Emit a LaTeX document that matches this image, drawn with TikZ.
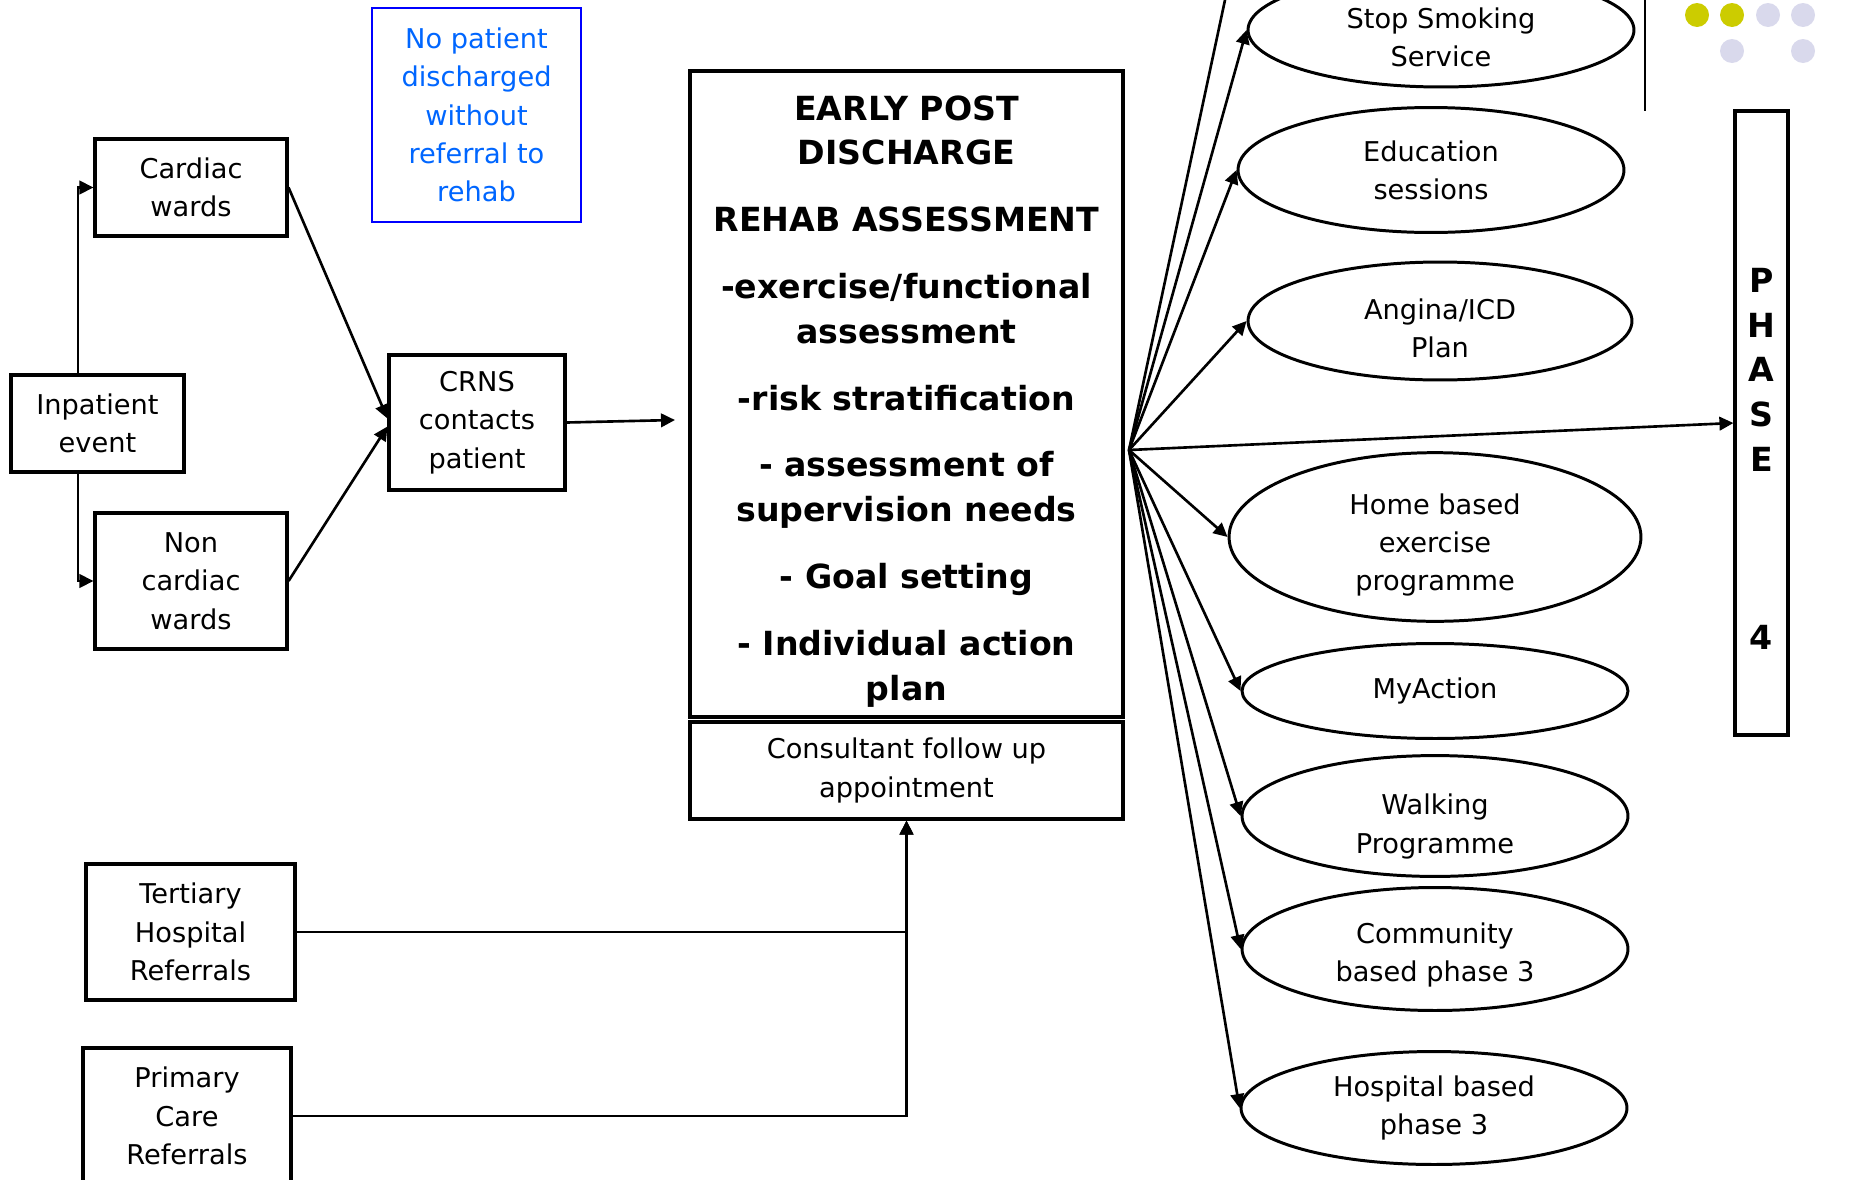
\documentclass[tikz,border=0pt]{standalone}
\usepackage{fontspec}
\setmainfont{DejaVu Sans}
\usetikzlibrary{arrows.meta, positioning, shapes.geometric}
\definecolor{noteblue}{RGB}{0, 102, 255}
\definecolor{noteframe}{RGB}{0, 0, 255}
\definecolor{dotyellow}{RGB}{204, 204, 0}
\definecolor{dotlilac}{RGB}{217, 217, 236}
\newcommand{\lowstrut}[1]{\rule{0pt}{#1}}

\begin{document}
\begin{tikzpicture}[x=0.02cm, y=-0.02cm,
    box/.style={draw, line width=1.8pt, align=center, inner sep=0pt, font=\fontsize{15.5}{21.8}\selectfont},
    oval/.style={draw, ellipse, line width=1.7pt, align=center, inner sep=0pt, minimum width=7.72cm, font=\fontsize{15.5}{21.8}\selectfont},
    bigtext/.style={font=\fontsize{18.9}{25.5}\selectfont\bfseries},
    flow/.style={line width=1.5pt, -{Triangle[length=2.8mm, width=2.7mm]}},
    link/.style={line width=1.5pt}]
    \useasboundingbox (0,0) rectangle (1853,1180);

    \node[box, minimum width=3.46cm, minimum height=1.94cm] (inpatient) at (97.5,423.5) {Inpatient\\event};
    \node[box, minimum width=3.84cm, minimum height=1.94cm] (cardiac) at (191,187.5) {Cardiac\\wards};
    \node[box, minimum width=3.84cm, minimum height=2.72cm] (noncardiac) at (191,581) {Non\\cardiac\\wards};
    \node[box, draw=noteframe, text=noteblue, line width=1.5pt, minimum width=4.18cm, minimum height=4.28cm] (note) at (476.5,115) {No patient\\discharged\\without\\referral to\\rehab};
    \node[box, minimum width=3.52cm, minimum height=2.7cm] (crns) at (477,422.5) {CRNS\\contacts\\patient};

    \node[box, bigtext, minimum width=8.66cm, minimum height=12.92cm] (assess) at (906.5,394) {\lowstrut{0.78cm}EARLY POST\\DISCHARGE\\[0.44cm]REHAB ASSESSMENT\\[0.44cm]-exercise/functional\\assessment\\[0.44cm]-risk stratification\\[0.44cm]- assessment of\\supervision needs\\[0.44cm]- Goal setting\\[0.44cm]- Individual action\\plan};
    \node[box, minimum width=8.66cm, minimum height=1.94cm] (consult) at (906.5,770.5) {Consultant follow up\\appointment};

    \node[box, minimum width=4.18cm, minimum height=2.72cm] (tertiary) at (190.5,932) {Tertiary\\Hospital\\Referrals};
    \node[box, minimum width=4.16cm, minimum height=2.72cm] (primary) at (187,1116) {Primary\\Care\\Referrals};

    \node[oval, minimum height=2.28cm] (stop) at (1441,30) {\lowstrut{0.7cm}Stop Smoking\\Service};
    \node[oval, minimum height=2.5cm] (educ) at (1431,170) {Education\\sessions};
    \node[oval, minimum width=7.68cm, minimum height=2.36cm] (angina) at (1440,321) {\lowstrut{0.7cm}Angina/ICD\\Plan};
    \node[oval, minimum width=8.24cm, minimum height=3.28cm] (home) at (1435,537) {\lowstrut{0.74cm}Home based\\exercise\\programme};
    \node[oval, minimum height=1.9cm] (myaction) at (1435,691) {MyAction};
    \node[oval, minimum height=2.3cm] (walking) at (1435,816) {\lowstrut{0.83cm}Walking\\Programme};
    \node[oval, minimum height=2.46cm] (community) at (1435,949) {\lowstrut{0.66cm}Community\\based phase 3};
    \node[oval, minimum height=2.26cm] (hospital) at (1434,1108) {Hospital based\\phase 3};

    \node[draw, line width=1.8pt, minimum width=1.06cm, minimum height=12.48cm] (phase) at (1761.5,423) {};
    \node[bigtext, align=center] (phaselbl) at (1761.5,459) {P\\H\\A\\S\\E\\[2.67cm]4};

    \foreach \x/\y/\c in {1697/15/dotyellow, 1732/15/dotyellow, 1768/15/dotlilac, 1803/15/dotlilac, 1732/51/dotlilac, 1803/51/dotlilac}
        \fill[\c] (\x,\y) circle (0.24cm);

    \coordinate (fan) at (1129,450);
    \coordinate (offtop) at (1225,0);
    \coordinate (crnsout) at (675,420);

    \draw[flow] ([xshift=-0.39cm]inpatient.north) |- (cardiac.west);
    \draw[flow] ([xshift=-0.39cm]inpatient.south) |- (noncardiac.west);
    \draw[flow] (cardiac.east) -- ([yshift=0.08cm]crns.west);
    \draw[flow] (noncardiac.east) -- ([yshift=-0.08cm]crns.west);
    \draw[flow] (crns.east) -- (crnsout);
    \draw[flow] (tertiary.east) -| (consult.south);
    \draw[flow] (primary.east) -| (consult.south);

    \foreach \t in {stop, educ, angina, home, myaction, walking, community, hospital}
        \draw[flow] (fan) -- (\t.west);
    \draw[flow] (fan) -- (phase.west);
    \draw[link] (fan) -- (offtop);
    \draw[link] (1645,0) -- (1645,111);
\end{tikzpicture}
\end{document}
